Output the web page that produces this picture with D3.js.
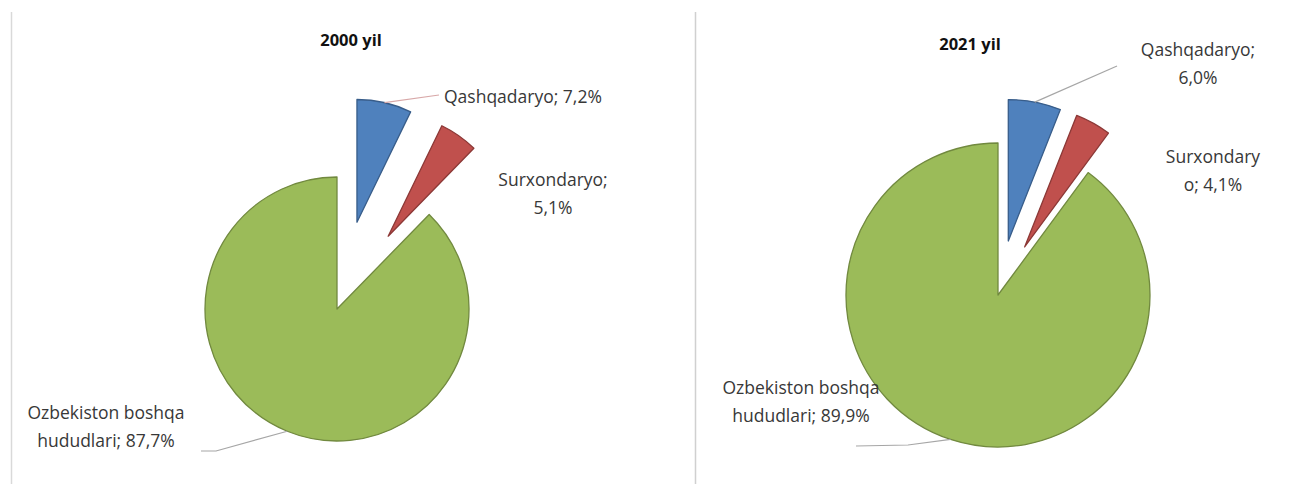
<!DOCTYPE html>
<html>
<head>
<meta charset="utf-8">
<script src="https://cdn.jsdelivr.net/npm/d3@7"></script>
<style>
  html, body { margin: 0; padding: 0; background: #ffffff; }
  svg { display: block; }
  text { font-family: "Open Sans", "Noto Sans", sans-serif; fill: #383838; }
</style>
</head>
<body>
<svg id="chart" width="1306" height="487"></svg>
<script>
// ---------------- DATA ----------------
const titles = ["2000 yil", "2021 yil"];
const categories = ["Qashqadaryo", "Surxondaryo", "Ozbekiston boshqa hududlari"];
const values2000 = [7.2, 5.1, 87.7];
const values2021 = [6.0, 4.1, 89.9];
const labels2000 = [["Qashqadaryo; 7,2%"], ["Surxondaryo;", "5,1%"], ["Ozbekiston boshqa", "hududlari; 87,7%"]];
const labels2021 = [["Qashqadaryo;", "6,0%"], ["Surxondary", "o; 4,1%"], ["Ozbekiston boshqa", "hududlari; 89,9%"]];

// ---------------- STYLE / LAYOUT ----------------
const fills = ["#4f81bd", "#c0504d", "#9bbb59"];
const strokes = ["#385d8a", "#8c3836", "#71893f"];

const layouts = [
  {
    cx: 337, cy: 309, r: 132, explode: 89, exScale: 0.93,
    title: {x: 351, y: 46},
    labels: [
      {x: 444, y: 103, anchor: "start", leader: [[439, 95]]},
      {x: 553, y: 186, anchor: "middle"},
      {x: 106, y: 419, anchor: "middle", leader: [[201, 451], [216, 451]]}
    ]
  },
  {
    cx: 998, cy: 295, r: 152, explode: 55, exScale: 0.93,
    title: {x: 970, y: 50},
    labels: [
      {x: 1198, y: 56, anchor: "middle", leader: [[1117, 66]]},
      {x: 1213, y: 163, anchor: "middle"},
      {x: 801, y: 394, anchor: "middle", leader: [[856, 446], [908, 445]]}
    ]
  }
];

const svg = d3.select("#chart");

// frame lines
svg.append("line").attr("x1", 11.5).attr("x2", 11.5).attr("y1", 12).attr("y2", 484)
  .attr("stroke", "#d9d9d9").attr("stroke-width", 1.5);
svg.append("line").attr("x1", 695.5).attr("x2", 695.5).attr("y1", 12).attr("y2", 484)
  .attr("stroke", "#d0d0d0").attr("stroke-width", 1.5);

const pie = d3.pie().sort(null).value(d => d);

function drawPie(values, labelLines, title, L, idx) {
  const g = svg.append("g");
  const arcs = pie(values);
  const exploded = [true, true, false];

  g.append("text").attr("x", L.title.x).attr("y", L.title.y)
    .attr("text-anchor", "middle").style("font-size", "16.5px").style("font-weight", "bold")
    .style("fill", "#111").text(title);

  arcs.forEach((a, i) => {
    const mid = (a.startAngle + a.endAngle) / 2;
    const off = exploded[i] ? L.explode : 0;
    const rr = exploded[i] ? L.r * L.exScale : L.r;
    const dx = Math.sin(mid) * off, dy = -Math.cos(mid) * off;
    const arc = d3.arc().innerRadius(0).outerRadius(rr);
    g.append("path")
      .attr("transform", `translate(${L.cx + dx},${L.cy + dy})`)
      .attr("d", arc(a))
      .attr("fill", fills[i])
      .attr("stroke", strokes[i])
      .attr("stroke-width", 1.3)
      .attr("stroke-linejoin", "round");
    a._anchor = [L.cx + dx + Math.sin(mid) * rr, L.cy + dy - Math.cos(mid) * rr];
  });

  labelLines.forEach((lines, i) => {
    const lb = L.labels[i];
    if (lb.leader) {
      const pts = lb.leader.concat([arcs[i]._anchor]);
      g.append("path")
        .attr("d", d3.line()(pts))
        .attr("fill", "none")
        .attr("stroke", i === 0 && idx === 0 ? "#d8a8a8" : "#a6a6a6")
        .attr("stroke-width", 1.2);
    }
    const t = g.append("text").attr("x", lb.x).attr("y", lb.y)
      .attr("text-anchor", lb.anchor).style("font-size", "17.5px");
    lines.forEach((ln, k) => {
      t.append("tspan").attr("x", lb.x).attr("dy", k === 0 ? 0 : 27.5).text(ln);
    });
  });
}

drawPie(values2000, labels2000, titles[0], layouts[0], 0);
drawPie(values2021, labels2021, titles[1], layouts[1], 1);
</script>
</body>
</html>
